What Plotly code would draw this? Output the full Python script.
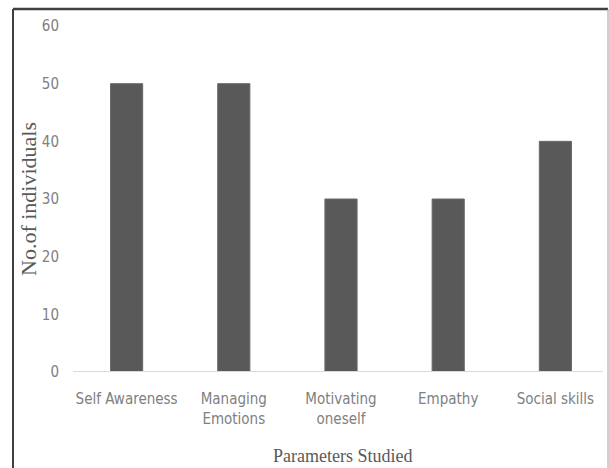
import plotly.graph_objects as go

categories = ["Self Awareness", "Managing<br>Emotions", "Motivating<br>oneself", "Empathy", "Social skills"]
values = [50, 50, 30, 30, 40]
y_ticks = [0, 10, 20, 30, 40, 50, 60]

W, H = 609, 468
L, R, T, B = 73, 0, 26, 96

narrow = "DejaVu Sans Condensed, Liberation Sans Narrow, Arial Narrow, sans-serif"
serif = "Liberation Serif, Times New Roman, DejaVu Serif, serif"

fig = go.Figure(go.Bar(
    x=categories, y=values,
    marker=dict(color="#595959", line=dict(color="#6a6a6a", width=1)),
    width=0.3,
))

pw = W - L - R
ph = H - T - B

fig.update_layout(
    width=W, height=H,
    margin=dict(l=L, r=R, t=T, b=B),
    paper_bgcolor="white", plot_bgcolor="white",
    showlegend=False,
    font=dict(family=narrow, size=15, color="#808080"),
    xaxis=dict(
        showline=False, showgrid=False, zeroline=False, ticks="",
        tickfont=dict(family=narrow, size=15, color="#808080"),
        ticklabelstandoff=16,
        range=[-0.5, 4.5],
    ),
    yaxis=dict(
        range=[0, 60], tickvals=y_ticks, showgrid=False, zeroline=False,
        showline=False, ticks="",
        tickfont=dict(family=narrow, size=15, color="#808080"),
        ticklabelstandoff=13,
    ),
    shapes=[
        # baseline
        dict(type="line", xref="paper", yref="y", x0=0, x1=(603 - L) / pw, y0=0, y1=0,
             line=dict(color="#d9d9d9", width=2)),
        # frame: left, top, right
        dict(type="line", xref="paper", yref="paper", x0=(13 - L) / pw, x1=(13 - L) / pw,
             y0=1 + (T - 9) / ph, y1=-(B + 5) / ph, line=dict(color="#404040", width=2)),
        dict(type="line", xref="paper", yref="paper", x0=(13 - L) / pw, x1=(608 - L) / pw,
             y0=1 + (T - 9) / ph, y1=1 + (T - 9) / ph, line=dict(color="#404040", width=2.5)),
        dict(type="line", xref="paper", yref="paper", x0=(608 - L) / pw, x1=(608 - L) / pw,
             y0=1 + (T - 9) / ph, y1=-(B + 5) / ph, line=dict(color="#a0a0a0", width=1)),
    ],
    annotations=[
        dict(text="Parameters Studied", xref="paper", yref="paper",
             x=(342 - L) / pw, y=-(456 - (T + ph)) / ph, xanchor="center", yanchor="middle",
             showarrow=False, font=dict(family=serif, size=18, color="#595959")),
        dict(text="No.of individuals", xref="paper", yref="paper",
             x=(28 - L) / pw, y=0.5, xanchor="center", yanchor="middle", textangle=-90,
             showarrow=False, font=dict(family=serif, size=22, color="#595959")),
    ],
)

fig.write_html("out.html")
